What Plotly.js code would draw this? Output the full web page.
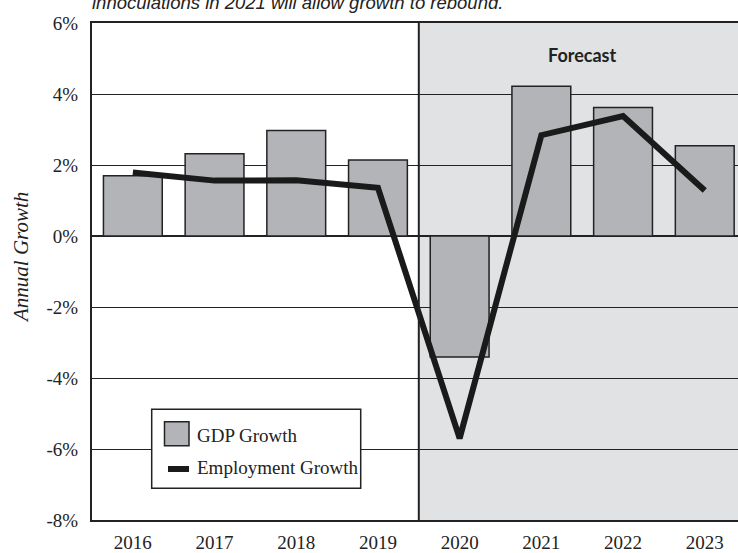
<!DOCTYPE html>
<html>
<head>
<meta charset="utf-8">
<script src="https://cdn.plot.ly/plotly-3.0.1.min.js"></script>
<style>html,body{margin:0;padding:0;background:#fff;}#chart{width:738px;height:553px;}</style>
</head>
<body>
<div id="chart"></div>
<script>
var years = ['2016', '2017', '2018', '2019', '2020', '2021', '2022', '2023'];
var gdpGrowth = [1.70, 2.32, 2.97, 2.14, -3.41, 4.22, 3.62, 2.54];
var employmentGrowth = [1.79, 1.56, 1.57, 1.36, -5.7, 2.84, 3.38, 1.28];
var yTickVals = [-8, -6, -4, -2, 0, 2, 4, 6];
var yTickText = ['-8%', '-6%', '-4%', '-2%', '0%', '2%', '4%', '6%'];
var seriesNames = ['GDP Growth', 'Employment Growth'];
var titleText = 'innoculations in 2021 will allow growth to rebound.';
var yTitle = 'Annual Growth';
var forecastLabel = 'Forecast';
var forecastStart = 3.5;

var dark = '#222222';
var barFill = '#b3b4b8';
var serif = 'Liberation Serif';

var traces = [
  {
    type: 'bar', x: years, y: gdpGrowth, name: seriesNames[0], width: 0.72,
    marker: {color: barFill, line: {color: dark, width: 1.5}},
    showlegend: false, hoverinfo: 'x+y'
  },
  {
    type: 'scatter', mode: 'lines', x: years, y: employmentGrowth, name: seriesNames[1],
    line: {color: '#1a1a1a', width: 6},
    showlegend: false, hoverinfo: 'x+y'
  }
];

// paper coords helpers for the plot area (92..738 x, 23..520 y)
function px(v) { return (v - 92) / 646; }
function py(v) { return (520 - v) / 497; }

var layout = {
  width: 738, height: 553,
  margin: {l: 92, r: 0, t: 23, b: 33, pad: 0},
  paper_bgcolor: '#ffffff', plot_bgcolor: '#ffffff',
  font: {family: serif, size: 19, color: dark},
  title: {
    text: titleText,
    font: {family: 'Liberation Sans', size: 18.5, color: dark, style: 'italic'},
    xref: 'paper', x: 0, xanchor: 'left',
    yref: 'container', y: 0.9946, yanchor: 'middle'
  },
  bargap: 0.28,
  xaxis: {
    type: 'category', range: [-0.5, 7.407], fixedrange: true,
    showgrid: false, zeroline: false,
    showline: true, linecolor: dark, linewidth: 2, mirror: true,
    ticks: '', ticklabelstandoff: 4,
    tickfont: {family: serif, size: 19, color: dark}
  },
  yaxis: {
    range: [-8, 6], fixedrange: true,
    tickvals: yTickVals, ticktext: yTickText,
    showgrid: true, gridcolor: dark, gridwidth: 1,
    zeroline: true, zerolinecolor: dark, zerolinewidth: 1.5,
    showline: true, linecolor: dark, linewidth: 2,
    ticks: '', ticklabelstandoff: 8,
    tickfont: {family: serif, size: 19, color: dark}
  },
  shapes: [
    {type: 'rect', xref: 'x', yref: 'paper', x0: forecastStart, x1: 7.6, y0: 0, y1: 1,
     fillcolor: '#e1e2e4', line: {width: 0}, layer: 'below'},
    {type: 'line', xref: 'x', yref: 'paper', x0: forecastStart, x1: forecastStart, y0: 0, y1: 1,
     line: {color: dark, width: 2}, layer: 'above'},
    {type: 'rect', xref: 'paper', yref: 'paper', x0: px(151.7), x1: px(360.7), y0: py(488.3), y1: py(409.3),
     fillcolor: '#ffffff', line: {color: dark, width: 1.5}, layer: 'above'},
    {type: 'rect', xref: 'paper', yref: 'paper', x0: px(164.5), x1: px(189), y0: py(445.7), y1: py(421.7),
     fillcolor: barFill, line: {color: dark, width: 1.5}, layer: 'above'},
    {type: 'line', xref: 'paper', yref: 'paper', x0: px(168), x1: px(189), y0: py(469), y1: py(469),
     line: {color: '#1a1a1a', width: 6}, layer: 'above'}
  ],
  annotations: [
    {text: '<b>' + forecastLabel + '</b>', xref: 'paper', yref: 'paper', x: px(582), y: py(54.5),
     xanchor: 'center', yanchor: 'middle', showarrow: false,
     font: {family: 'Lato', size: 18, color: dark}},
    {text: '<i>' + yTitle + '</i>', xref: 'paper', yref: 'paper', x: px(21), y: py(258),
     xanchor: 'center', yanchor: 'middle', textangle: -90, showarrow: false,
     font: {family: serif, size: 21, color: dark}},
    {text: seriesNames[0], xref: 'paper', yref: 'paper', x: px(195), y: py(435.5),
     xanchor: 'left', yanchor: 'middle', showarrow: false,
     font: {family: serif, size: 19, color: dark}},
    {text: seriesNames[1], xref: 'paper', yref: 'paper', x: px(195), y: py(467.5),
     xanchor: 'left', yanchor: 'middle', showarrow: false,
     font: {family: serif, size: 19, color: dark}}
  ]
};

Plotly.newPlot('chart', traces, layout, {displayModeBar: false, staticPlot: true});
</script>
</body>
</html>
